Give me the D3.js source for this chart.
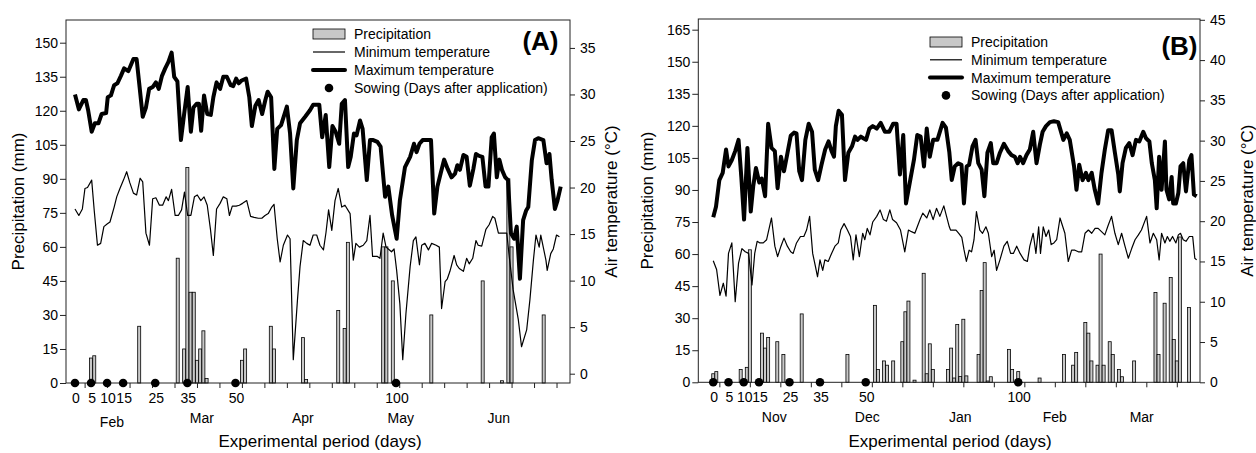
<!DOCTYPE html>
<html><head><meta charset="utf-8">
<script src="https://cdn.jsdelivr.net/npm/d3@7"></script>
<style>body{margin:0;background:#fff} svg{display:block} text{font-family:"Liberation Sans",Arial,sans-serif;fill:#000}</style>
</head><body><svg id="c" width="1256" height="453"></svg>
<script>
// ---------------- DATA ----------------
const sowingDays = [0, 5, 10, 15, 25, 35, 50, 100];
const monthsA = ["Feb", "Mar", "Apr", "May", "Jun"];
const monthDaysA = [11.5, 39.5, 71, 101.5, 132];
const monthsB = ["Nov", "Dec", "Jan", "Feb", "Mar"];
const monthDaysB = [20, 50.5, 81, 112, 140.5];
const precipTicksA = [0,15,30,45,60,75,90,105,120,135,150];
const precipTicksB = [0,15,30,45,60,75,90,105,120,135,150,165];
const tempTicksA = [0,5,10,15,20,25,30,35];
const tempTicksB = [0,5,10,15,20,25,30,35,40,45];
const legendLabels = ["Precipitation","Minimum temperature","Maximum temperature","Sowing (Days after application)"];

// Panel A: [day, value]
const precipA = [[5,11],[6,12],[20,25],[32,55],[34,15],[35,95],[36,40],[37,40],[38,10],[39,15],[40,23],[41,2],[52,10],[53,15],[61,25],[62,15],[71,20],[72,1.5],[82,32],[84,24],[85,62],[96,60],[97,60],[99,45],[111,30],[127,45],[133,1],[135,90],[136,60],[146,30]];
const maxA = [[0,30.0],[1.2,28.4],[2.6,29.4],[3.4,29.4],[4.1,28.3],[5.2,26.0],[6.2,26.9],[7.3,26.9],[8.3,27.9],[9.7,28.0],[10.2,29.7],[11.2,29.9],[12.2,31.0],[13.2,31.2],[14.3,32.0],[15.3,32.8],[16.6,32.5],[18.2,33.8],[19.2,33.8],[20.0,31.2],[21.1,27.6],[22.1,28.6],[23.1,30.6],[24.2,30.8],[25.2,31.3],[26.1,30.6],[27.1,32.0],[28.1,32.8],[29.1,33.5],[30.1,34.5],[30.9,31.9],[31.9,31.4],[33.0,25.1],[34.0,27.9],[35.1,30.8],[36.1,26.0],[36.9,28.6],[37.9,29.0],[38.6,29.0],[39.3,26.1],[40.2,29.9],[41.2,27.9],[42.3,27.8],[43.1,29.7],[44.1,31.3],[45.2,30.6],[46.2,31.9],[47.3,31.9],[48.5,31.0],[49.3,30.9],[50.2,31.7],[51.0,31.2],[51.9,31.5],[53.3,31.7],[54.3,29.7],[55.1,26.6],[56.2,28.8],[57.2,29.4],[58.3,27.9],[59.3,29.4],[60.0,30.3],[61.1,29.7],[62.1,22.0],[63.0,26.3],[64.2,26.7],[66.0,28.7],[67.0,25.8],[68.0,19.9],[69.1,25.1],[70.1,26.9],[71.7,27.6],[73.2,28.3],[74.2,28.9],[76.1,28.9],[77.0,25.4],[78.1,27.8],[79.2,22.2],[80.2,26.6],[81.2,26.0],[82.3,24.7],[83.1,29.0],[84.1,29.4],[85.1,22.2],[85.9,23.3],[86.9,25.8],[87.7,25.6],[88.8,27.2],[89.6,26.3],[90.9,20.8],[91.9,25.1],[92.9,25.1],[94.2,24.9],[95.2,24.4],[96.6,19.0],[97.6,20.1],[98.8,17.0],[100.2,14.5],[101.2,18.6],[102.8,22.2],[104.4,23.3],[105.6,24.7],[106.4,23.8],[107.3,24.7],[108.3,25.1],[109.5,25.1],[110.9,25.1],[111.9,17.2],[112.9,20.1],[113.9,21.5],[115.0,23.0],[116.1,22.0],[117.3,21.1],[118.4,21.5],[119.1,22.4],[119.9,21.9],[121.0,23.5],[122.0,23.3],[123.0,20.2],[124.1,22.0],[124.9,23.6],[125.9,23.4],[126.9,23.3],[127.9,20.1],[128.8,20.1],[129.8,25.4],[130.5,25.8],[131.4,21.1],[132.2,23.0],[133.0,21.9],[134.0,21.1],[134.9,20.8],[135.8,15.1],[136.8,14.5],[137.6,15.8],[138.6,10.2],[139.6,16.5],[140.5,17.5],[141.2,17.9],[142.3,22.9],[143.3,25.1],[144.3,25.3],[145.9,25.1],[146.9,22.6],[147.8,23.6],[148.5,20.8],[149.5,17.7],[150.3,18.6],[151.3,20.1]];
const minA = [[0,17.7],[1.2,17.0],[2.3,17.7],[3.1,19.9],[3.9,20.0],[5.2,20.8],[6.0,17.5],[7.0,13.8],[8.0,14.0],[9.0,15.8],[10.1,16.1],[10.9,16.3],[12.2,17.9],[13.0,19.0],[14.0,19.9],[15.1,20.8],[16.1,21.7],[17.1,20.5],[18.2,19.4],[19.2,19.2],[20.3,21.0],[21.1,20.6],[22.1,15.1],[23.2,13.8],[24.2,18.8],[25.2,18.9],[26.3,18.1],[27.3,18.1],[28.4,19.0],[29.1,18.6],[30.1,19.8],[31.2,17.0],[32.2,17.0],[33.2,17.6],[34.1,19.5],[35.1,17.0],[36.1,17.0],[37.2,19.0],[38.1,19.2],[39.2,18.6],[40.2,19.0],[41.2,18.1],[42.2,15.5],[43.1,12.7],[44.1,17.7],[45.2,18.3],[46.2,19.0],[47.3,18.8],[48.1,17.0],[49.0,18.0],[50.2,18.0],[51.2,18.1],[52.2,18.3],[53.5,18.6],[54.7,16.9],[55.8,16.8],[57.1,16.7],[58.2,16.7],[59.2,17.0],[60.2,17.2],[61.3,17.9],[62.0,18.2],[63.0,14.5],[63.9,12.0],[64.9,13.8],[66.2,14.9],[67.0,14.5],[68.0,1.5],[69.3,7.9],[70.1,11.5],[71.1,14.3],[72.2,14.0],[73.2,13.8],[74.2,14.9],[75.3,14.9],[76.3,13.8],[77.4,13.3],[78.2,15.2],[79.0,17.6],[80.0,15.4],[81.0,18.6],[82.0,19.9],[83.1,17.9],[84.1,18.1],[85.7,17.2],[86.7,12.2],[87.5,14.0],[88.6,13.6],[89.8,13.8],[90.9,14.3],[91.9,17.0],[92.7,12.6],[94.2,12.6],[95.0,12.4],[96.0,15.1],[96.9,13.6],[97.6,13.4],[98.6,13.1],[99.4,13.4],[100.2,11.1],[101.2,7.5],[102.1,1.5],[103.1,6.5],[104.4,11.5],[105.4,14.3],[106.2,14.7],[107.3,11.7],[108.0,13.8],[109.0,14.0],[110.1,13.3],[111.1,14.0],[112.5,13.8],[113.5,13.6],[114.2,7.0],[115.3,9.9],[116.0,10.2],[116.8,11.0],[118.1,12.7],[118.9,11.7],[119.7,11.3],[121.0,11.0],[122.0,12.4],[122.8,11.8],[123.9,12.4],[124.9,14.3],[125.6,13.8],[126.7,13.7],[128.0,15.5],[129.0,16.0],[130.1,16.9],[130.8,16.7],[131.9,15.1],[134.5,15.1],[135.3,12.5],[136.5,9.0],[138.1,5.8],[139.1,2.9],[140.7,4.7],[141.7,7.9],[142.8,12.2],[143.6,14.9],[144.6,13.6],[145.1,14.9],[146.7,12.2],[147.1,11.1],[148.2,12.9],[149.0,13.4],[150.0,14.9],[150.9,14.7]];

// Panel B: [day, value]
const precipB = [[0,4],[1,5],[9,6],[11,7],[12,62],[16,23],[17,16],[18,21],[21,19],[23,13],[29,32],[44,13],[53,36],[54,6],[56,10],[57,8],[59,10],[62,19],[63,33],[64,38],[66,1],[69,51],[70,4],[71,18],[72,6],[77,6],[78,16],[79,2],[80,27],[81,2.7],[82,29.5],[83,3],[87,13],[88,43],[89,56],[90,0.6],[91,2.6],[97,15.4],[98,6],[100,5],[107,2],[115,13],[118,8],[119,14],[122,28],[123,23],[124,10],[126,8],[127,60],[128,8],[130,19],[131,13],[133,6],[134,2.6],[138,10],[145,42],[146,13],[148,37],[150,49],[151,20],[152,10],[153,68],[156,35]];
const maxB = [[0,20.5],[0.9,21.8],[2.0,25.1],[3.1,26.0],[4.2,28.9],[5.0,26.8],[6.1,27.6],[7.2,28.7],[8.3,30.1],[9.2,25.5],[10.1,20.2],[11.2,29.1],[12.3,21.2],[13.1,24.3],[14.0,26.6],[15.1,24.8],[15.9,25.3],[17.0,23.1],[18.0,32.1],[19.1,29.1],[20.2,28.7],[21.1,24.1],[22.2,28.0],[23.2,26.2],[24.3,28.4],[25.4,30.6],[26.5,31.0],[27.3,30.9],[28.2,26.2],[29.1,25.1],[30.2,30.1],[31.3,32.1],[32.4,31.1],[33.3,26.4],[34.4,25.1],[35.5,27.0],[36.7,28.9],[37.8,29.9],[38.8,28.7],[39.6,28.0],[40.2,31.8],[41.1,33.7],[42.2,33.2],[43.2,25.1],[44.3,28.5],[45.5,29.3],[46.5,30.5],[47.3,30.1],[48.4,30.5],[49.2,30.3],[50.1,30.1],[51.2,31.5],[52.3,31.8],[53.6,31.5],[54.9,32.2],[56.3,31.1],[57.7,31.1],[59.0,32.1],[60.1,32.1],[61.2,25.8],[62.3,30.7],[63.2,22.2],[64.5,24.9],[65.8,27.6],[66.9,30.7],[68.0,30.5],[69.1,26.8],[70.0,31.5],[71.0,28.0],[72.1,30.1],[73.5,30.1],[75.2,32.2],[76.3,31.6],[77.4,28.6],[78.2,25.1],[79.2,26.8],[80.3,27.2],[81.4,27.0],[82.2,22.2],[83.1,26.8],[83.9,27.0],[85.0,29.3],[86.0,30.1],[86.9,27.2],[88.0,26.4],[88.9,23.1],[89.9,28.5],[91.0,29.7],[91.8,27.2],[92.9,27.2],[94.0,28.5],[95.3,29.6],[96.7,28.7],[97.8,28.2],[98.9,28.0],[99.8,27.2],[100.6,28.0],[101.6,27.2],[102.7,28.2],[103.8,28.9],[104.9,31.1],[106.0,27.2],[107.1,29.5],[108.0,31.1],[109.1,31.8],[110.4,32.3],[111.7,32.4],[113.1,32.3],[114.8,30.1],[115.9,30.9],[116.9,30.1],[118.3,26.8],[119.1,23.9],[120.0,27.0],[121.1,25.1],[122.2,26.0],[123.0,25.1],[124.1,26.0],[125.1,23.9],[126.2,22.2],[127.3,26.0],[128.4,28.9],[129.5,31.3],[130.6,31.3],[131.7,28.5],[132.8,25.8],[133.3,23.7],[134.2,27.2],[135.3,29.1],[136.4,29.7],[137.5,28.2],[138.6,30.1],[139.7,29.9],[141.0,31.1],[141.9,30.3],[143.0,29.9],[143.8,27.2],[144.8,25.1],[145.4,21.6],[146.2,28.0],[147.0,23.9],[148.1,29.9],[148.6,23.9],[149.5,22.7],[150.3,25.5],[150.8,22.2],[151.7,22.2],[152.5,23.5],[153.2,26.8],[154.1,27.2],[155.0,23.7],[156.1,27.6],[156.8,28.2],[157.6,23.3],[158.5,23.1]];
const minB = [[0,15.1],[1.1,14.0],[2.2,10.8],[3.3,12.3],[4.2,10.7],[5.0,16.0],[6.1,17.3],[7.2,10.0],[8.3,14.8],[9.4,16.6],[10.5,16.2],[11.6,16.0],[12.7,12.1],[13.6,16.0],[14.4,17.5],[15.3,17.3],[16.4,17.3],[17.5,17.7],[19.1,20.4],[20.2,16.9],[21.1,15.6],[22.2,16.9],[23.2,17.9],[24.3,16.9],[25.4,16.2],[26.2,16.0],[27.3,17.3],[28.6,18.1],[29.7,18.1],[30.6,18.9],[31.6,20.6],[32.6,16.0],[33.5,14.4],[34.2,13.1],[35.0,15.2],[35.9,13.9],[36.6,15.2],[37.7,15.0],[38.8,16.0],[39.9,16.9],[41.0,17.3],[41.8,18.9],[42.9,19.7],[44.0,18.9],[45.0,18.1],[45.9,15.2],[46.8,18.3],[47.9,15.6],[49.0,18.5],[49.7,17.7],[50.5,19.1],[51.4,18.3],[52.3,19.9],[53.6,20.6],[54.7,21.4],[55.8,20.2],[56.8,20.0],[57.9,21.4],[58.8,20.2],[60.1,19.8],[61.4,18.9],[62.8,16.2],[64.0,18.9],[65.0,18.7],[66.1,18.5],[66.9,19.3],[67.8,20.2],[68.7,21.0],[70.0,20.4],[71.0,21.4],[72.1,20.2],[73.2,21.6],[74.3,20.6],[75.6,21.9],[76.5,20.6],[77.4,19.3],[77.8,18.9],[79.6,18.9],[80.5,18.5],[81.5,18.0],[82.2,16.5],[83.0,15.0],[83.9,16.4],[84.7,16.2],[85.5,17.7],[86.3,21.2],[87.4,18.9],[88.3,18.5],[89.4,19.3],[90.2,18.5],[91.3,15.6],[92.1,16.4],[92.9,13.9],[94.0,15.2],[95.3,16.9],[96.4,17.5],[97.5,16.0],[98.4,16.0],[99.5,16.9],[100.6,16.0],[101.9,15.2],[103.0,15.0],[103.8,16.9],[104.9,18.5],[105.8,16.0],[106.7,19.3],[107.3,16.0],[108.2,19.3],[109.1,18.1],[110.0,18.9],[110.8,17.1],[111.7,17.3],[112.6,17.7],[113.7,20.4],[115.3,18.5],[116.4,15.0],[117.5,16.4],[118.6,16.4],[119.7,16.2],[120.8,16.2],[121.9,18.5],[123.0,18.9],[124.1,18.5],[125.2,19.1],[126.2,19.1],[127.3,18.7],[128.4,18.3],[129.5,19.5],[130.6,20.6],[131.7,18.5],[132.8,17.1],[133.9,18.5],[135.0,16.9],[136.1,15.4],[137.2,16.6],[138.3,17.7],[139.4,18.3],[140.4,18.9],[142.1,20.6],[143.2,17.3],[144.3,18.5],[145.4,17.7],[146.2,15.2],[147.0,18.5],[148.1,17.3],[148.9,18.1],[149.7,17.5],[150.6,18.1],[151.7,17.3],[152.5,18.3],[153.2,18.5],[154.1,17.7],[155.0,17.5],[156.1,18.1],[157.2,18.1],[157.9,15.4],[158.5,15.2]];

// ---------------- DRAW ----------------
const svg = d3.select("#c");
const FONT = '"Liberation Sans",Arial,sans-serif';

function panel(o){
  const x = d3.scaleLinear().domain(o.xDom).range([o.L, o.R]);
  const yP = d3.scaleLinear().domain(o.pDom).range([o.B, o.T]);
  const yT = d3.scaleLinear().domain(o.tDom).range([o.B, o.T]);
  const g = svg.append("g");

  // bars
  g.append("g").selectAll("rect").data(o.precip).join("rect")
    .attr("x", d => x(d[0]) - 1.5).attr("width", 3)
    .attr("y", d => yP(d[1])).attr("height", d => o.B - yP(d[1]))
    .attr("fill", "#c8c8c8").attr("stroke", "#000").attr("stroke-width", 0.8);

  const line = d3.line().x(d => x(d[0])).y(d => yT(d[1]));
  g.append("path").datum(o.min).attr("d", line).attr("fill", "none")
    .attr("stroke", "#000").attr("stroke-width", 1.2).attr("stroke-linejoin", "round");
  g.append("path").datum(o.max).attr("d", line).attr("fill", "none")
    .attr("stroke", "#000").attr("stroke-width", 4).attr("stroke-linejoin", "round");

  // frame
  g.append("rect").attr("x", o.L).attr("y", o.T).attr("width", o.R - o.L).attr("height", o.B - o.T)
    .attr("fill", "none").attr("stroke", "#222").attr("stroke-width", 1);

  // axes
  const styleAxis = a => { a.attr("font-family", FONT).attr("font-size", 14);
    a.select(".domain").remove(); a.selectAll("line").attr("stroke", "#222");
    a.selectAll("text").attr("fill", "#000"); };
  g.append("g").attr("transform", `translate(${o.L},0)`)
    .call(d3.axisLeft(yP).tickValues(o.pTicks).tickSize(6).tickPadding(2)).call(styleAxis);
  g.append("g").attr("transform", `translate(${o.R},0)`)
    .call(d3.axisRight(yT).tickValues(o.tTicks).tickSize(5).tickPadding(5)).call(styleAxis);
  g.append("g").attr("transform", `translate(0,${o.B})`)
    .call(d3.axisBottom(x).tickValues(o.xTicks).tickSize(5).tickFormat("")).call(styleAxis);

  // sowing dots
  g.append("g").selectAll("circle").data(sowingDays).join("circle")
    .attr("cx", d => x(d)).attr("cy", o.B).attr("r", 4.3).attr("fill", "#000");

  // sowing day labels
  g.append("g").selectAll("text").data(sowingDays).join("text")
    .attr("x", d => x(d) + 1).attr("y", o.numY).attr("text-anchor", "middle")
    .attr("font-size", 14).text(d => d);

  // month labels
  g.append("g").selectAll("text").data(o.months).join("text")
    .attr("x", (d, i) => x(o.monthDays[i])).attr("y", (d, i) => o.monthY[i])
    .attr("text-anchor", "middle").attr("font-size", 14).text(d => d);

  // axis titles
  g.append("text").attr("transform", `translate(${o.ltX},${(o.T + o.B) / 2}) rotate(-90)`)
    .attr("text-anchor", "middle").attr("dy", "0.35em").attr("font-size", 17).text("Precipitation (mm)");
  g.append("text").attr("transform", `translate(${o.rtX},${(o.T + o.B) / 2}) rotate(-90)`)
    .attr("text-anchor", "middle").attr("dy", "0.35em").attr("font-size", 17).text("Air temperature (°C)");
  g.append("text").attr("x", o.xtX).attr("y", 447).attr("text-anchor", "middle")
    .attr("font-size", 17).text("Experimental period (days)");

  // panel letter
  g.append("text").attr("x", o.letX).attr("y", o.letY).attr("text-anchor", "end")
    .attr("font-size", 26).attr("font-weight", "bold").text(o.letter);

  // legend
  const lg = g.append("g").attr("transform", `translate(${o.legX},${o.legY})`);
  const rows = legendLabels.map((t, i) => i * o.legStep);
  lg.append("rect").attr("x", 0).attr("y", rows[0] - 5).attr("width", 32).attr("height", 10)
    .attr("fill", "#c8c8c8").attr("stroke", "#000").attr("stroke-width", 0.8);
  lg.append("line").attr("x1", 0).attr("x2", 32).attr("y1", rows[1]).attr("y2", rows[1])
    .attr("stroke", "#000").attr("stroke-width", 1.2);
  lg.append("line").attr("x1", 0).attr("x2", 32).attr("y1", rows[2]).attr("y2", rows[2])
    .attr("stroke", "#000").attr("stroke-width", 4).attr("stroke-linecap", "round");
  lg.append("circle").attr("cx", 16).attr("cy", rows[3]).attr("r", 4.3).attr("fill", "#000");
  lg.selectAll("text").data(legendLabels).join("text")
    .attr("x", 41).attr("y", (d, i) => rows[i]).attr("dy", "0.35em")
    .attr("font-size", 14).text(d => d);
}

const ticksA = d3.range(3, 153, 7);
const ticksB = d3.range(2, 160, 10);

panel({L:66, R:570, T:20, B:383, xDom:[-2.8,154.2], pDom:[0,160], tDom:[-1,38],
  precip:precipA, max:maxA, min:minA, pTicks:precipTicksA, tTicks:tempTicksA, xTicks:ticksA,
  months:monthsA, monthDays:monthDaysA, monthY:[426.5,423,423,423,423], numY:402.5,
  ltX:18, rtX:611, xtX:320, letter:"(A)", letX:558.5, letY:50,
  legX:313, legY:34, legStep:18});

panel({L:698.3, R:1200, T:19, B:382.3, xDom:[-4.9,159.6], pDom:[0,170], tDom:[0,45.1],
  precip:precipB, max:maxB, min:minB, pTicks:precipTicksB, tTicks:tempTicksB, xTicks:ticksB,
  months:monthsB, monthDays:monthDaysB, monthY:[421.5,421.5,421.5,421.5,421.5], numY:402,
  ltX:647.5, rtX:1247, xtX:950, letter:"(B)", letX:1197.5, letY:55,
  legX:930, legY:42, legStep:17.8});
</script></body></html>
